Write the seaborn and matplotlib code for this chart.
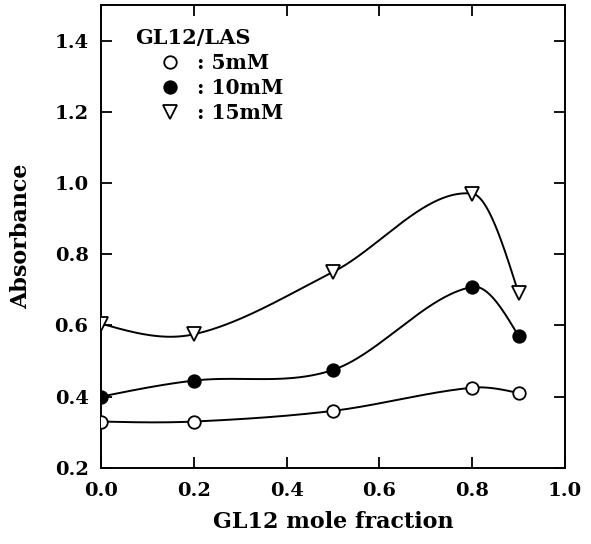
import numpy as np
import pandas as pd
import matplotlib
matplotlib.use("Agg")
import matplotlib.pyplot as plt
from matplotlib.lines import Line2D
import seaborn as sns

# data
fraction = [0.0, 0.2, 0.5, 0.8, 0.9]
abs_5mM = [0.33, 0.33, 0.36, 0.425, 0.41]
abs_10mM = [0.40, 0.445, 0.475, 0.708, 0.57]
abs_15mM = [0.605, 0.575, 0.75, 0.97, 0.69]
series = [": 5mM", ": 10mM", ": 15mM"]
markers = ["o", "o", "v"]
faces = ["white", "black", "white"]


def smooth_curve(x, y, n=300):
    # cubic hermite with catmull-rom tangents, just to draw the smooth line
    x = np.asarray(x, float)
    y = np.asarray(y, float)
    k = len(x)
    s = np.diff(y) / np.diff(x)
    m = np.zeros(k)
    for i in range(1, k - 1):
        m[i] = (y[i + 1] - y[i - 1]) / (x[i + 1] - x[i - 1])
    m[0] = 1.5 * s[0] - 0.5 * m[1]
    m[-1] = 1.5 * s[-1] - 0.5 * m[-2]
    xs = np.linspace(x[0], x[-1], n)
    ys = np.empty_like(xs)
    for j, xv in enumerate(xs):
        i = min(np.searchsorted(x, xv, side="right") - 1, k - 2)
        h = x[i + 1] - x[i]
        t = (xv - x[i]) / h
        h00 = 2 * t**3 - 3 * t**2 + 1
        h10 = t**3 - 2 * t**2 + t
        h01 = -2 * t**3 + 3 * t**2
        h11 = t**3 - t**2
        ys[j] = h00 * y[i] + h10 * h * m[i] + h01 * y[i + 1] + h11 * h * m[i + 1]
    return xs, ys


df = pd.DataFrame({
    "fraction": fraction * 3,
    "absorbance": abs_5mM + abs_10mM + abs_15mM,
    "conc": [s for s in series for _ in fraction],
})

sns.set_style("ticks")
plt.rcParams["font.family"] = ["DejaVu Serif"]
plt.rcParams["font.weight"] = "bold"
plt.rcParams["text.color"] = "black"

fig = plt.figure(figsize=(5.91, 5.44), dpi=100)
ax = fig.add_axes([0.171, 0.140, 0.785, 0.851])

for name, mk, fc in zip(series, markers, faces):
    sub = df[df["conc"] == name]
    xs, ys = smooth_curve(sub["fraction"], sub["absorbance"])
    sns.lineplot(x=xs, y=ys, ax=ax, color="black", lw=1.4, zorder=2)
    ax.plot(sub["fraction"], sub["absorbance"], ls="none", marker=mk,
            ms=9 if mk == "o" else 10, mfc=fc, mec="black", mew=1.3, zorder=3)

ax.set_xlim(0, 1.0)
ax.set_ylim(0.2, 1.5)
ax.set_xticks([0.0, 0.2, 0.4, 0.6, 0.8, 1.0])
ax.set_yticks([0.2, 0.4, 0.6, 0.8, 1.0, 1.2, 1.4])
ax.xaxis.set_major_formatter(matplotlib.ticker.FormatStrFormatter("%.1f"))
ax.yaxis.set_major_formatter(matplotlib.ticker.FormatStrFormatter("%.1f"))
ax.tick_params(direction="in", length=8, width=1.3, top=True, right=True,
               labelsize=14, color="black", labelcolor="black")
ax.tick_params(axis="x", pad=10)
ax.tick_params(axis="y", pad=9)
for sp in ax.spines.values():
    sp.set_linewidth(1.4)
    sp.set_color("black")

ax.set_xlabel("GL12 mole fraction", fontsize=16, fontweight="bold",
              labelpad=8, color="black")
ax.set_ylabel("Absorbance", fontsize=16, fontweight="bold", labelpad=16,
              color="black")

ax.text(0.073, 0.929, "GL12/LAS", transform=ax.transAxes, fontsize=15,
        fontweight="bold", va="center", ha="left", color="black")
handles = [Line2D([], [], ls="none", marker=mk, ms=9 if mk == "o" else 10,
                  mfc=fc, mec="black", mew=1.3)
           for mk, fc in zip(markers, faces)]
ax.legend(handles, series, loc="upper left", bbox_to_anchor=(0.127, 0.896),
          frameon=False, handlelength=1.0, handletextpad=0.85,
          labelspacing=0.25, borderaxespad=0, borderpad=0,
          prop={"size": 14.5, "weight": "bold"}, labelcolor="black")

fig.savefig("out.png", dpi=100)
